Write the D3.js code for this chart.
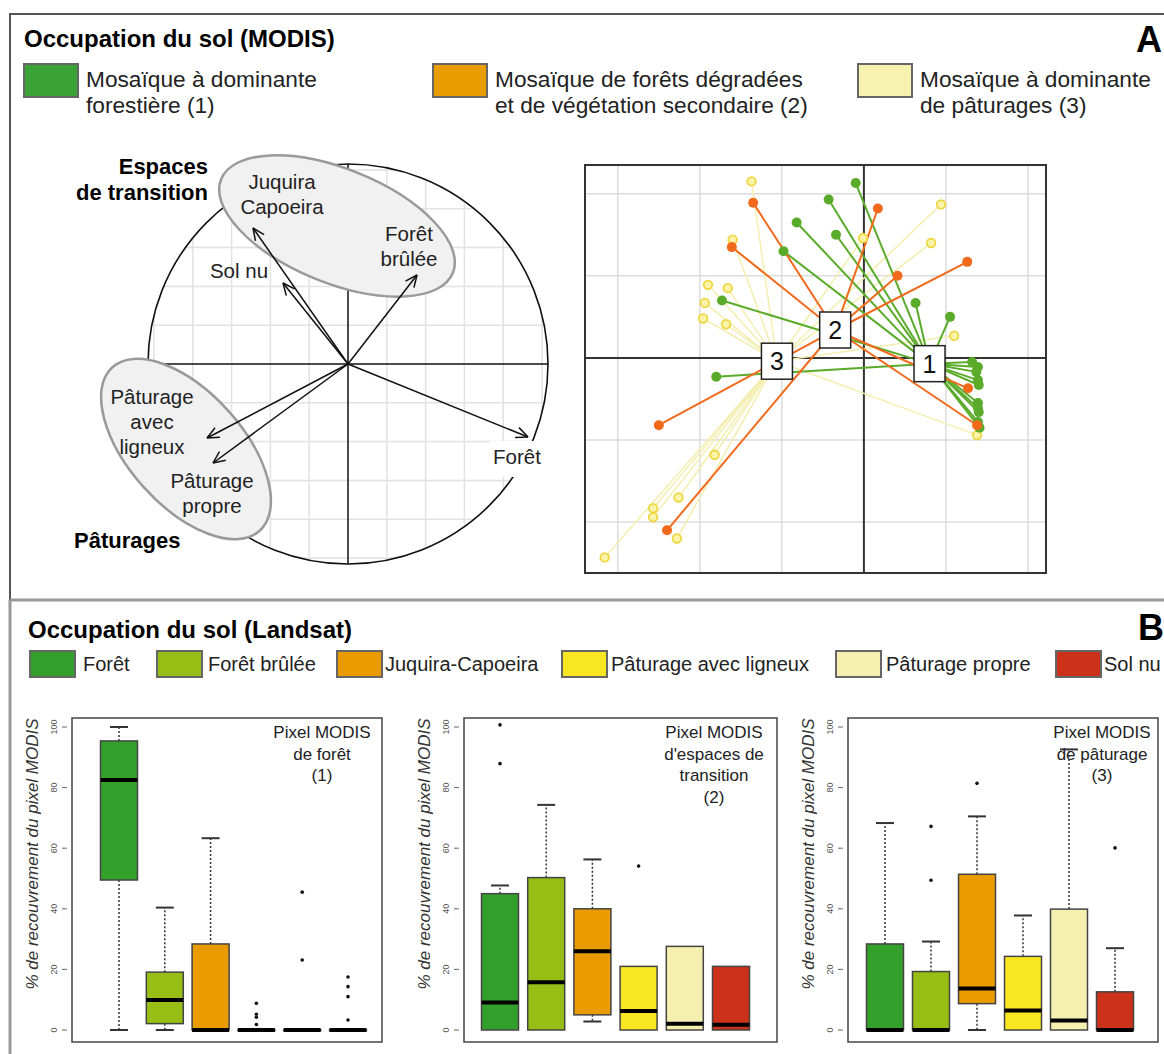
<!doctype html>
<html>
<head>
<meta charset="UTF-8" />
<script src="https://cdn.jsdelivr.net/npm/d3@7"></script>
<style>
  body { margin: 0; background: #fff; }
  svg { display: block; font-family: "Liberation Sans", Arial, sans-serif; }
</style>
</head>
<body>
<svg id="fig" width="1164" height="1054"></svg>
<script>
// ---------- data : panel A ----------
const modisLegend = [["Mosaïque à dominante", "forestière (1)"],
                     ["Mosaïque de forêts dégradées", "et de végétation secondaire (2)"],
                     ["Mosaïque à dominante", "de pâturages (3)"]];

// correlation circle (axis 1 / axis 2)
const varNames = ["Forêt", "Forêt brûlée", "Juquira Capoeira", "Sol nu", "Pâturage avec ligneux", "Pâturage propre"];
const varLines = [["Forêt"], ["Forêt", "brûlée"], ["Juquira", "Capoeira"], ["Sol nu"], ["Pâturage", "avec", "ligneux"], ["Pâturage", "propre"]];
const varF1 = [0.90, 0.345, -0.475, -0.325, -0.705, -0.675];
const varF2 = [-0.365, 0.445, 0.68, 0.405, -0.37, -0.495];

// MODIS pixels on the factorial plane, class 1/2/3
const indClass = [1,1,1,1,1,1,1,1,1,1,1,1,1,1,1,1,1,1,1,
                  2,2,2,2,2,2,2,2,2,
                  3,3,3,3,3,3,3,3,3,3,3,3,3,3,3,3,3,3];
const indF1 = [-0.10,-0.43,-0.82,-0.34,-0.98,-1.73,0.63,1.05,-1.80,1.32,1.39,1.37,1.39,1.40,1.39,1.39,1.40,1.39,1.41,
               -1.35,0.17,-1.61,1.26,0.41,-2.50,-2.40,1.27,1.38,
               -1.37,0.94,-1.60,-0.01,0.82,-1.90,-1.66,-1.94,-1.96,-1.68,1.10,1.38,-1.82,-2.26,-2.57,-2.57,-2.28,-3.16];
const indF2 = [2.13,1.93,1.65,1.50,1.30,0.70,0.67,0.50,-0.23,-0.05,-0.11,-0.17,-0.27,-0.33,-0.55,-0.61,-0.66,-0.78,-0.85,
               1.89,1.82,1.35,1.17,1.00,-0.82,-2.10,-0.37,-0.82,
               2.15,1.87,1.44,1.46,1.40,0.89,0.85,0.67,0.48,0.41,0.27,-0.94,-1.18,-1.70,-1.83,-1.94,-2.20,-2.43];
const centroidLabels = ["1", "2", "3"];
const centroidF1 = [0.80, -0.35, -1.06];
const centroidF2 = [-0.07, 0.34, -0.04];

// ---------- data : panel B ----------
const landsatClasses = ["Forêt", "Forêt brûlée", "Juquira-Capoeira", "Pâturage avec ligneux", "Pâturage propre", "Sol nu"];
const panelTitles = [["Pixel MODIS", "de forêt", "(1)"],
                     ["Pixel MODIS", "d'espaces de", "transition", "(2)"],
                     ["Pixel MODIS", "de pâturage", "(3)"]];
// [lower whisker, Q1, median, Q3, upper whisker]
const statsForest = [[0,49.5,82.5,95.4,100],[0,2.1,9.9,19.1,40.4],[0,0,0,28.4,63.3],[0,0,0,0,0],[0,0,0,0,0],[0,0,0,0,0]];
const outForest   = [[],[],[],[8.8,5.2,4.2,1.8],[45.5,23.1],[17.5,14.3,11.0,3.3]];
const statsTransition = [[0,0,9.1,45.0,47.7],[0,0,15.8,50.3,74.3],[2.8,5.0,26.0,40.0,56.3],[0,0,6.3,21.0,21.0],[0,0,2.1,27.6,27.6],[0,0,1.7,21.0,21.0]];
const outTransition   = [[100.7,87.9],[],[],[54.1],[],[]];
const statsPasture = [[0,0,0,28.4,68.3],[0,0,0,19.3,29.2],[0,8.7,13.7,51.4,70.5],[0,0,6.4,24.3,37.8],[0,0,3.1,39.9,92.6],[0,0,0,12.6,27.0]];
const outPasture   = [[],[67.2,49.4],[81.4],[],[],[60.1]];
const yTicks = [0, 20, 40, 60, 80, 100];

// ---------- styles ----------
const modisColors = ["#3aa335", "#e99d00", "#f7f1b2"];
const landsatColors = ["#34a02c", "#97be14", "#e99b00", "#f8e620", "#f6f0b0", "#cc3219"];
const pointColors = { 1: "#5aab2a", 2: "#f2691c", 3: "#f3e470" };
const lineColors = { 1: "#5aab2a", 2: "#f2691c", 3: "#f4eeb0" };

const svg = d3.select("#fig");

// frames
svg.append("rect").attr("x", 10).attr("y", 14).attr("width", 1170).attr("height", 586)
  .attr("fill", "none").attr("stroke", "#555").attr("stroke-width", 2);
svg.append("line").attr("x1", 10).attr("x2", 1164).attr("y1", 600).attr("y2", 600)
  .attr("stroke", "#999").attr("stroke-width", 3);
svg.append("line").attr("x1", 10).attr("x2", 10).attr("y1", 600).attr("y2", 1054)
  .attr("stroke", "#999").attr("stroke-width", 3);

// ---------- panel A header ----------
svg.append("text").attr("x", 24).attr("y", 47).attr("font-size", 24).attr("font-weight", "bold")
  .text("Occupation du sol (MODIS)");
svg.append("text").attr("x", 1162).attr("y", 52).attr("text-anchor", "end").attr("font-size", 36)
  .attr("font-weight", "bold").text("A");

const legA = [24, 433, 858];
modisLegend.forEach(function(lines, i) {
  svg.append("rect").attr("x", legA[i]).attr("y", 64).attr("width", 54).attr("height", 33)
    .attr("fill", modisColors[i]).attr("stroke", "#666").attr("stroke-width", 2);
  lines.forEach(function(t, j) {
    svg.append("text").attr("x", legA[i] + 62).attr("y", 87 + j * 26).attr("font-size", 22.7)
      .attr("fill", "#222").text(t);
  });
});

// ---------- correlation circle ----------
const cx = d3.scaleLinear().domain([-1, 1]).range([148, 548]);
const cy = d3.scaleLinear().domain([-1, 1]).range([564, 164]);
const R = cx(1) - cx(0);

svg.append("clipPath").attr("id", "circClip").append("circle")
  .attr("cx", cx(0)).attr("cy", cy(0)).attr("r", R);
const gridStep = 0.194;
const gridVals = d3.range(-5, 6).filter(function(k) { return k !== 0; }).map(function(k) { return k * gridStep; });
const cg = svg.append("g").attr("clip-path", "url(#circClip)");
cg.selectAll("line.gv").data(gridVals).enter().append("line")
  .attr("x1", d => cx(d)).attr("x2", d => cx(d)).attr("y1", cy(1)).attr("y2", cy(-1))
  .attr("stroke", "#e2e2e2").attr("stroke-width", 1.5);
cg.selectAll("line.gh").data(gridVals).enter().append("line")
  .attr("y1", d => cy(d)).attr("y2", d => cy(d)).attr("x1", cx(-1)).attr("x2", cx(1))
  .attr("stroke", "#e2e2e2").attr("stroke-width", 1.5);

svg.append("circle").attr("cx", cx(0)).attr("cy", cy(0)).attr("r", R)
  .attr("fill", "none").attr("stroke", "#111").attr("stroke-width", 1.6);
svg.append("line").attr("x1", cx(-1)).attr("x2", cx(1)).attr("y1", cy(0)).attr("y2", cy(0))
  .attr("stroke", "#111").attr("stroke-width", 1.5);
svg.append("line").attr("x1", cx(0)).attr("x2", cx(0)).attr("y1", cy(1)).attr("y2", cy(-1))
  .attr("stroke", "#111").attr("stroke-width", 1.5);

// group ellipses (annotations)
function ellipse(ex, ey, a, b, rot) {
  svg.append("ellipse").attr("cx", cx(ex)).attr("cy", cy(ey)).attr("rx", a).attr("ry", b)
    .attr("transform", "rotate(" + rot + "," + cx(ex) + "," + cy(ey) + ")")
    .attr("fill", "#f1f1f1").attr("stroke", "#9a9a9a").attr("stroke-width", 2.5);
}
ellipse(-0.055, 0.69, 125, 57, 22);
ellipse(-0.81, -0.425, 110, 57, 48);

// white patch behind the "Forêt" label cuts the circle
svg.append("rect").attr("x", 490).attr("y", 441).attr("width", 56).attr("height", 36).attr("fill", "#fff");

const labelOffsets = [[-11, 27], [-8, -34], [29, -39], [-44, -5], [-55, -34], [-1, 25]];
varNames.forEach(function(name, i) {
  const x0 = cx(0), y0 = cy(0), x1 = cx(varF1[i]), y1 = cy(varF2[i]);
  const ang = Math.atan2(y1 - y0, x1 - x0);
  const g = svg.append("g").attr("stroke", "#111").attr("stroke-width", 1.5).attr("fill", "none");
  g.append("line").attr("x1", x0).attr("y1", y0).attr("x2", x1).attr("y2", y1);
  [0.42, -0.42].forEach(function(da) {
    g.append("line").attr("x1", x1).attr("y1", y1)
      .attr("x2", x1 - 13 * Math.cos(ang + da)).attr("y2", y1 - 13 * Math.sin(ang + da));
  });
  varLines[i].forEach(function(t, j) {
    svg.append("text").attr("x", x1 + labelOffsets[i][0]).attr("y", y1 + labelOffsets[i][1] + j * 25)
      .attr("text-anchor", "middle").attr("font-size", 20.5).attr("fill", "#222").text(t);
  });
});

svg.append("text").attr("x", 208).attr("y", 174).attr("text-anchor", "end").attr("font-size", 22)
  .attr("font-weight", "bold").text("Espaces");
svg.append("text").attr("x", 208).attr("y", 200).attr("text-anchor", "end").attr("font-size", 22)
  .attr("font-weight", "bold").text("de transition");
svg.append("text").attr("x", 74).attr("y", 548).attr("font-size", 22)
  .attr("font-weight", "bold").text("Pâturages");

// ---------- factorial plane ----------
const sx = d3.scaleLinear().domain([-3.4, 2.22]).range([585, 1046]);
const sy = d3.scaleLinear().domain([-2.62, 2.35]).range([573, 165]);

const sg = svg.append("g");
sg.selectAll("line.gx").data([-3, -2, -1, 1, 2]).enter().append("line")
  .attr("x1", d => sx(d)).attr("x2", d => sx(d)).attr("y1", sy(2.35)).attr("y2", sy(-2.62))
  .attr("stroke", "#dcdcdc").attr("stroke-width", 1.5);
sg.selectAll("line.gy").data([-2, -1, 1, 2]).enter().append("line")
  .attr("y1", d => sy(d)).attr("y2", d => sy(d)).attr("x1", sx(-3.4)).attr("x2", sx(2.22))
  .attr("stroke", "#dcdcdc").attr("stroke-width", 1.5);
sg.append("line").attr("x1", sx(0)).attr("x2", sx(0)).attr("y1", sy(2.35)).attr("y2", sy(-2.62))
  .attr("stroke", "#333").attr("stroke-width", 2);
sg.append("line").attr("y1", sy(0)).attr("y2", sy(0)).attr("x1", sx(-3.4)).attr("x2", sx(2.22))
  .attr("stroke", "#333").attr("stroke-width", 2);

const inds = indClass.map(function(c, i) { return { c: c, x: indF1[i], y: indF2[i] }; });
[3, 1, 2].forEach(function(c) {
  sg.selectAll(null).data(inds.filter(d => d.c === c)).enter().append("line")
    .attr("x1", d => sx(d.x)).attr("y1", d => sy(d.y))
    .attr("x2", d => sx(centroidF1[c - 1])).attr("y2", d => sy(centroidF2[c - 1]))
    .attr("stroke", lineColors[c]).attr("stroke-width", c === 3 ? 1.5 : 2);
});
[3, 1, 2].forEach(function(c) {
  sg.selectAll(null).data(inds.filter(d => d.c === c)).enter().append("circle")
    .attr("cx", d => sx(d.x)).attr("cy", d => sy(d.y)).attr("r", c === 3 ? 4.3 : 5)
    .attr("fill", c === 3 ? "#faf3a8" : pointColors[c])
    .attr("stroke", c === 3 ? "#eed640" : "none").attr("stroke-width", 1.8);
});
centroidLabels.forEach(function(t, i) {
  const x = sx(centroidF1[i]), y = sy(centroidF2[i]);
  sg.append("rect").attr("x", x - 15.5).attr("y", y - 18).attr("width", 31).attr("height", 36)
    .attr("fill", "#fff").attr("stroke", "#222").attr("stroke-width", 1.5);
  sg.append("text").attr("x", x).attr("y", y + 9).attr("text-anchor", "middle")
    .attr("font-size", 25).attr("fill", "#111").text(t);
});
sg.append("rect").attr("x", 585).attr("y", 165).attr("width", 461).attr("height", 408)
  .attr("fill", "none").attr("stroke", "#333").attr("stroke-width", 2);

// ---------- panel B header ----------
svg.append("text").attr("x", 28).attr("y", 638).attr("font-size", 24).attr("font-weight", "bold")
  .text("Occupation du sol (Landsat)");
svg.append("text").attr("x", 1164).attr("y", 640).attr("text-anchor", "end").attr("font-size", 36)
  .attr("font-weight", "bold").text("B");

const legB = [30, 157, 337, 562, 836, 1056];
const legBText = [83, 208, 385, 611, 886, 1104];
landsatClasses.forEach(function(name, i) {
  svg.append("rect").attr("x", legB[i]).attr("y", 651).attr("width", 45).attr("height", 26)
    .attr("fill", landsatColors[i]).attr("stroke", "#666").attr("stroke-width", 2);
  svg.append("text").attr("x", legBText[i]).attr("y", 671).attr("font-size", 20)
    .attr("fill", "#222").text(name);
});

// ---------- box plots ----------
const panels = [
  { x0: 72, x1: 382, first: 119, last: 348, title: 322, stats: statsForest, outl: outForest },
  { x0: 464, x1: 777, first: 500, last: 731, title: 714, stats: statsTransition, outl: outTransition },
  { x0: 848, x1: 1158, first: 885, last: 1115, title: 1102, stats: statsPasture, outl: outPasture }
];
const by = d3.scaleLinear().domain([0, 100]).range([1030, 727]);
const boxW = 37;

panels.forEach(function(p, k) {
  const bx = d3.scalePoint().domain(landsatClasses).range([p.first, p.last]);
  const g = svg.append("g");
  g.append("rect").attr("x", p.x0).attr("y", 718).attr("width", p.x1 - p.x0).attr("height", 324)
    .attr("fill", "none").attr("stroke", "#444").attr("stroke-width", 1.5);

  yTicks.forEach(function(t) {
    g.append("line").attr("x1", p.x0 - 10).attr("x2", p.x0 - 5).attr("y1", by(t)).attr("y2", by(t))
      .attr("stroke", "#666").attr("stroke-width", 1);
    g.append("text").attr("transform", "translate(" + (p.x0 - 15) + "," + by(t) + ") rotate(-90)")
      .attr("text-anchor", "middle").attr("font-size", 9).attr("fill", "#555").text(t);
  });
  g.append("text").attr("transform", "translate(" + (p.x0 - 34) + "," + 854 + ") rotate(-90)")
    .attr("text-anchor", "middle").attr("font-size", 17).attr("font-style", "italic")
    .attr("fill", "#333").text("% de recouvrement du pixel MODIS");

  panelTitles[k].forEach(function(t, j) {
    g.append("text").attr("x", p.title).attr("y", 738 + j * 21.5).attr("text-anchor", "middle")
      .attr("font-size", 17).attr("fill", "#222").text(t);
  });

  landsatClasses.forEach(function(cls, i) {
    const s = p.stats[i], x = bx(cls);
    // whiskers: from box edge to extreme, with a cap
    [[s[3], s[4]], [s[1], s[0]]].forEach(function(w) {
      if (w[0] !== w[1]) {
        g.append("line").attr("x1", x).attr("x2", x).attr("y1", by(w[0])).attr("y2", by(w[1]))
          .attr("stroke", "#333").attr("stroke-width", 1.5).attr("stroke-dasharray", "2,2");
        g.append("line").attr("x1", x - 9).attr("x2", x + 9).attr("y1", by(w[1])).attr("y2", by(w[1]))
          .attr("stroke", "#333").attr("stroke-width", 2);
      }
    });
    g.append("rect").attr("x", x - boxW / 2).attr("y", by(s[3]))
      .attr("width", boxW).attr("height", Math.max(by(s[1]) - by(s[3]), 0.5))
      .attr("fill", landsatColors[i]).attr("stroke", "#444").attr("stroke-width", 1.5);
    g.append("line").attr("x1", x - boxW / 2).attr("x2", x + boxW / 2)
      .attr("y1", by(s[2])).attr("y2", by(s[2]))
      .attr("stroke", "#000").attr("stroke-width", 4);
    g.selectAll(null).data(p.outl[i]).enter().append("circle")
      .attr("cx", x).attr("cy", d => by(d)).attr("r", 1.8).attr("fill", "#111");
  });
});
</script>
</body>
</html>
